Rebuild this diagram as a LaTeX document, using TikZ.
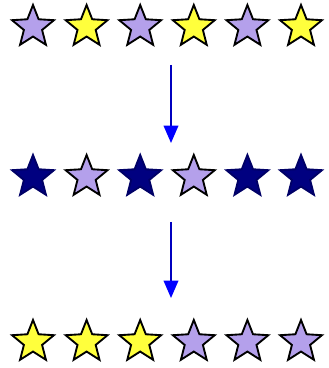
\documentclass[tikz,border=0pt]{standalone}
\usetikzlibrary{shapes.geometric,arrows.meta}
\definecolor{starlilac}{RGB}{180,160,235}
\definecolor{staryellow}{RGB}{255,255,60}
\definecolor{starnavy}{RGB}{0,0,128}
\begin{document}
\begin{tikzpicture}[x=0.03cm,y=0.03cm,line join=miter,
    star base/.style={star,star points=5,star point ratio=2.3,minimum size=1.32cm,
      inner sep=0pt,draw=black,line width=1.6pt},
    lilac/.style={star base,fill=starlilac},
    yellow star/.style={star base,fill=staryellow},
    navy/.style={star base,fill=starnavy,draw=starnavy!80!black},
    step arrow/.style={draw=blue!75!black,line width=1.2pt,
      -{Triangle[length=0.52cm,width=0.44cm,color=blue,fill=blue]}}]
  \useasboundingbox (0,0) rectangle (328,368);

  % Top row
  \node[lilac] (a1) at (33,341) {};
  \node[yellow star] (a2) at (86.6,341) {};
  \node[lilac] (a3) at (140.2,341) {};
  \node[yellow star] (a4) at (193.8,341) {};
  \node[lilac] (a5) at (247.4,341) {};
  \node[yellow star] (a6) at (301,341) {};

  % Middle row
  \node[navy] (b1) at (33,191) {};
  \node[lilac] (b2) at (86.6,191) {};
  \node[navy] (b3) at (140.2,191) {};
  \node[lilac] (b4) at (193.8,191) {};
  \node[navy] (b5) at (247.4,191) {};
  \node[navy] (b6) at (301,191) {};

  % Bottom row
  \node[yellow star] (c1) at (33,26) {};
  \node[yellow star] (c2) at (86.6,26) {};
  \node[yellow star] (c3) at (140.2,26) {};
  \node[lilac] (c4) at (193.8,26) {};
  \node[lilac] (c5) at (247.4,26) {};
  \node[lilac] (c6) at (301,26) {};

  % Arrows between the rows
  \coordinate (top out) at (171,303);
  \coordinate (mid in) at (171,225);
  \coordinate (mid out) at (171,146);
  \coordinate (low in) at (171,70);
  \draw[step arrow] (top out) -- (mid in);
  \draw[step arrow] (mid out) -- (low in);
\end{tikzpicture}
\end{document}
